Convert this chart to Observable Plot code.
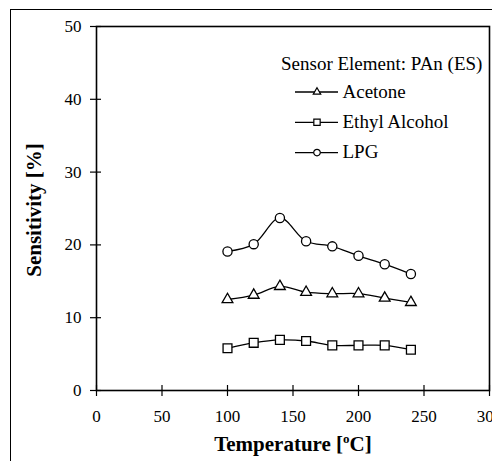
<!DOCTYPE html>
<html><head><meta charset="utf-8">
<script src="https://cdn.jsdelivr.net/npm/d3@7"></script>
<script src="https://cdn.jsdelivr.net/npm/@observablehq/plot@0.6"></script>
<style>
html,body{margin:0;padding:0;background:#fff;}
#wrap{position:relative;width:492px;height:461px;overflow:hidden;font-family:'Liberation Serif',serif;color:#000;}
#border{position:absolute;left:10px;top:9px;width:700px;height:700px;border:1.5px solid #000;box-sizing:border-box;}
#chart{position:absolute;left:0;top:0;}
#chart svg text{font-family:'Liberation Serif',serif;}
#xlabel{position:absolute;left:0;width:586px;top:434px;line-height:1;text-align:center;font-weight:bold;font-size:21px;white-space:nowrap;}
#xlabel sup{font-size:13px;vertical-align:8px;line-height:0;}
#ylabel{position:absolute;left:34px;top:210px;line-height:1;transform:translate(-50%,-50%) rotate(-90deg);font-weight:bold;font-size:21px;white-space:nowrap;}
#legend{position:absolute;left:0;top:0;pointer-events:none;}
#legend text{font-family:'Liberation Serif',serif;font-size:19px;}
</style>
</head><body>
<div id="wrap">
  <div id="border"></div>
  <div id="chart"></div>
  <div id="xlabel">Temperature [<sup>o</sup>C]</div>
  <div id="ylabel">Sensitivity [%]</div>
  <div id="legend"></div>
</div>
<script>
// ---- data ----
const temperature = [100, 120, 140, 160, 180, 200, 220, 240];
const acetone      = [12.5, 13.1, 14.3, 13.5, 13.3, 13.3, 12.7, 12.1];
const ethylAlcohol = [5.8, 6.55, 6.95, 6.8, 6.2, 6.2, 6.2, 5.6];
const lpg          = [19.1, 20.1, 23.7, 20.5, 19.8, 18.5, 17.35, 16.0];
const seriesNames  = ["Acetone", "Ethyl Alcohol", "LPG"];
const seriesSymbols = ["triangle", "square", "circle"];
const xTicks = [0, 50, 100, 150, 200, 250, 300];
const yTicks = [0, 10, 20, 30, 40, 50];
const legendTitle = "Sensor Element: PAn (ES)";

const valuesBySeries = [acetone, ethylAlcohol, lpg];
const symbolRadius = {triangle: 4, square: 5, circle: 4.6};
const rows = [];
seriesNames.forEach((name, i) => {
  temperature.forEach((t, j) => rows.push({series: name, symbol: seriesSymbols[i], t, v: valuesBySeries[i][j]}));
});

const chart = Plot.plot({
  width: 492,
  height: 461,
  marginLeft: 96,
  marginTop: 26,
  marginRight: 3,
  marginBottom: 71,
  x: {domain: [0, 300]},
  y: {domain: [0, 50]},
  style: {fontFamily: "Liberation Serif, serif", fontSize: "17px", color: "#000", background: "transparent", overflow: "visible"},
  marks: [
    Plot.frame({stroke: "#000", strokeWidth: 1.6}),
    Plot.axisX({ticks: xTicks, tickSize: 11, dy: -5, tickPadding: 13.5, label: null, tickFormat: d => String(d), strokeWidth: 1.2}),
    Plot.axisY({ticks: yTicks, tickSize: 11, dx: 5, tickPadding: 9, label: null, tickFormat: d => String(d), strokeWidth: 1.2}),
    Plot.line(rows, {x: "t", y: "v", z: "series", curve: "catmull-rom", stroke: "#000", strokeWidth: 1.3}),
    ...seriesSymbols.map((s, i) =>
      Plot.dot(rows.filter(d => d.series === seriesNames[i]), {x: "t", y: "v", symbol: s, r: symbolRadius[s], stroke: "#000", fill: "#fff", strokeWidth: 1.3}))
  ]
});
document.getElementById("chart").appendChild(chart);

// ---- legend (inside the plot area, drawn as an overlay) ----
const lg = d3.select("#legend").append("svg").attr("width", 492).attr("height", 461);
lg.append("text").attr("x", 281).attr("y", 69.5).text(legendTitle);
const symbolMap = {triangle: d3.symbolTriangle, square: d3.symbolSquare, circle: d3.symbolCircle};
const legendSize = {triangle: 24, square: 40, circle: 34};
seriesNames.forEach((name, i) => {
  const cy = 92 + i * 30.3;
  const g = lg.append("g");
  g.append("line").attr("x1", 295).attr("x2", 338).attr("y1", cy).attr("y2", cy).attr("stroke", "#000").attr("stroke-width", 1.3);
  g.append("path").attr("transform", `translate(317,${cy})`)
    .attr("d", d3.symbol(symbolMap[seriesSymbols[i]], legendSize[seriesSymbols[i]])())
    .attr("fill", "#fff").attr("stroke", "#000").attr("stroke-width", 1.2);
  g.append("text").attr("x", 342.5).attr("y", cy + 5.5).text(name);
});
</script>
</body></html>
